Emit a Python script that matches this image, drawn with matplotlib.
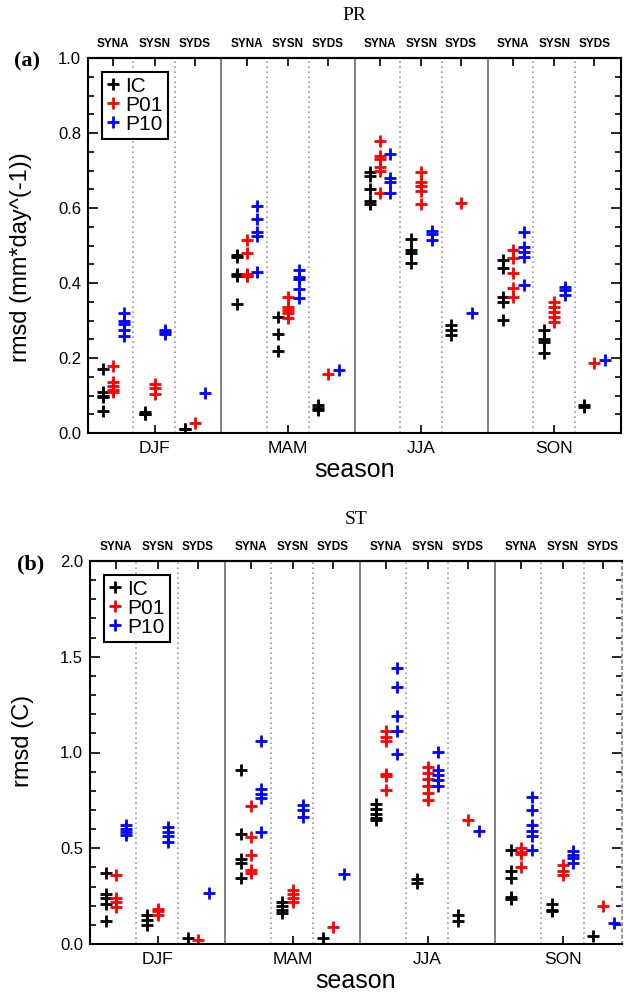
import numpy as np
import matplotlib.pyplot as plt
from matplotlib.lines import Line2D

seasons = ['DJF', 'MAM', 'JJA', 'SON']
groups = ['SYNA', 'SYSN', 'SYDS']
series = ['IC', 'P01', 'P10']
colors = ['black', 'red', 'blue']

# rmsd values, one list per season/group: DJF SYNA, DJF SYSN, DJF SYDS, MAM SYNA, ...
pr_ic = [[0.17, 0.11, 0.10, 0.095, 0.06], [0.057, 0.052, 0.05], [0.012, 0.01],
         [0.475, 0.47, 0.425, 0.42, 0.345], [0.31, 0.265, 0.22], [0.075, 0.068, 0.062],
         [0.695, 0.685, 0.65, 0.62, 0.612], [0.517, 0.488, 0.479, 0.454], [0.288, 0.275, 0.261],
         [0.461, 0.439, 0.362, 0.35, 0.301], [0.275, 0.252, 0.244, 0.213], [0.075, 0.07]]
pr_p01 = [[0.18, 0.135, 0.125, 0.115, 0.11], [0.13, 0.12, 0.105], [0.026],
          [0.515, 0.48, 0.425, 0.42, 0.42], [0.364, 0.337, 0.328, 0.319, 0.306], [0.157],
          [0.78, 0.74, 0.73, 0.71, 0.70, 0.64], [0.695, 0.67, 0.66, 0.645, 0.61], [0.614],
          [0.488, 0.466, 0.426, 0.386, 0.364], [0.35, 0.337, 0.324, 0.31, 0.297], [0.186]]
pr_p10 = [[0.32, 0.30, 0.29, 0.275, 0.26], [0.275, 0.27, 0.265], [0.106],
          [0.605, 0.57, 0.535, 0.525, 0.43], [0.435, 0.415, 0.41, 0.385, 0.36], [0.168],
          [0.745, 0.68, 0.67, 0.64], [0.54, 0.53, 0.515], [0.319],
          [0.537, 0.497, 0.483, 0.47, 0.395], [0.39, 0.381, 0.368], [0.195]]

st_ic = [[0.37, 0.26, 0.24, 0.21, 0.12], [0.15, 0.125, 0.10], [0.03],
         [0.91, 0.575, 0.445, 0.425, 0.345], [0.22, 0.20, 0.18, 0.16], [0.03],
         [0.73, 0.705, 0.68, 0.66, 0.645], [0.34, 0.32], [0.15, 0.12],
         [0.49, 0.38, 0.345, 0.245, 0.235], [0.21, 0.18, 0.17], [0.04]]
st_p01 = [[0.36, 0.24, 0.22, 0.195], [0.185, 0.17, 0.15], [0.02],
          [0.72, 0.56, 0.465, 0.385, 0.37], [0.28, 0.26, 0.24, 0.22], [0.09],
          [1.11, 1.08, 1.06, 0.89, 0.875, 0.805], [0.925, 0.895, 0.86, 0.825, 0.79, 0.75], [0.645],
          [0.50, 0.48, 0.47, 0.40], [0.41, 0.38, 0.36], [0.20]]
st_p10 = [[0.62, 0.60, 0.585, 0.57], [0.61, 0.585, 0.565, 0.535], [0.265],
          [1.06, 0.81, 0.785, 0.76, 0.585], [0.725, 0.70, 0.665], [0.365],
          [1.44, 1.34, 1.19, 1.11, 0.99], [1.005, 0.91, 0.885, 0.855, 0.825], [0.59],
          [0.77, 0.70, 0.62, 0.59, 0.565, 0.49], [0.485, 0.465, 0.45, 0.425], [0.11]]

group_pos = [0.19, 0.5, 0.8]
divider_pos = [0.34, 0.655]
series_off = [-0.075, 0.0, 0.08]

plt.rcParams['font.family'] = ['Liberation Sans', 'DejaVu Sans']

fig = plt.figure(figsize=(6.24, 10), dpi=100)


def draw_panel(ax, data, xmax, ymax, major, minor, ylabel, ylab_y, title, tag):
    for k in range(3):
        for i in range(12):
            s, g = divmod(i, 3)
            vals = data[k][i]
            xs = np.full(len(vals), s + group_pos[g] + series_off[k])
            ax.plot(xs, vals, ls='none', marker='+', ms=9, mew=2,
                    color=colors[k])
    for s in range(4):
        if s > 0:
            ax.axvline(s, color='#777777', lw=1.3)
        for d in divider_pos:
            ax.axvline(s + d, color='#999999', lw=1.2, ls=(0, (1, 2)))
    ax.set_xlim(0, xmax)
    ax.set_ylim(0, ymax)
    ax.set_yticks(np.arange(0, ymax + 1e-9, major))
    ax.set_yticks(np.arange(0, ymax + 1e-9, minor), minor=True)
    ax.set_yticklabels(['%.1f' % v for v in np.arange(0, ymax + 1e-9, major)],
                       fontsize=12)
    ax.set_xticks([s + 0.5 for s in range(4)])
    ax.set_xticklabels(seasons, fontsize=12.5)
    ax.tick_params(axis='both', which='both', direction='in', right=True)
    ax.tick_params(axis='y', which='major', length=7, width=1.2, pad=5)
    ax.tick_params(axis='y', which='minor', length=4, width=1.2)
    ax.tick_params(axis='x', length=6, width=1.2, pad=6)
    ax.set_xlabel('season', fontsize=18, labelpad=1)
    ax.set_ylabel(ylabel, fontsize=17)
    ax.yaxis.set_label_coords(-0.105, ylab_y)
    for sp in ax.spines.values():
        sp.set_linewidth(1.5)

    top = ax.secondary_xaxis('top')
    top.set_xticks([s + p for s in range(4) for p in group_pos])
    top.set_xticklabels(groups * 4, fontsize=8.5, fontweight='bold')
    top.tick_params(direction='in', length=6, width=1.2, pad=6)
    top.spines['top'].set_linewidth(1.5)

    handles = [Line2D([], [], ls='none', marker='+', ms=9, mew=2, color=c)
               for c in colors]
    leg = ax.legend(handles, series, loc='upper left', fontsize=15,
                    handlelength=0.6, handletextpad=0.3, borderpad=0.25,
                    labelspacing=0.0, borderaxespad=0.65, fancybox=False,
                    framealpha=1)
    leg.get_frame().set_edgecolor('black')
    leg.get_frame().set_linewidth(1.5)

    ax.set_title(title, fontsize=14, family='Liberation Serif', pad=27)
    ax.text(-0.138, 0.99, tag, transform=ax.transAxes, fontsize=16,
            fontweight='bold', family='Liberation Serif', va='center')


ax_a = fig.add_axes([88 / 624, 1 - 433 / 1000, 533 / 624, 375 / 1000])
draw_panel(ax_a, [pr_ic, pr_p01, pr_p10], 4.0, 1.0, 0.2, 0.05,
           'rmsd (mm*day^(-1))', 0.47, 'PR', '(a)')

ax_b = fig.add_axes([90 / 624, 1 - 944 / 1000, 532 / 624, 383 / 1000])
draw_panel(ax_b, [st_ic, st_p01, st_p10], 3.94, 2.0, 0.5, 0.1,
           'rmsd (C)', 0.53, 'ST', '(b)')
ax_b.spines['right'].set_linestyle((0, (1, 2)))
ax_b.spines['right'].set_color('#999999')

fig.savefig('out.png', dpi=100)
